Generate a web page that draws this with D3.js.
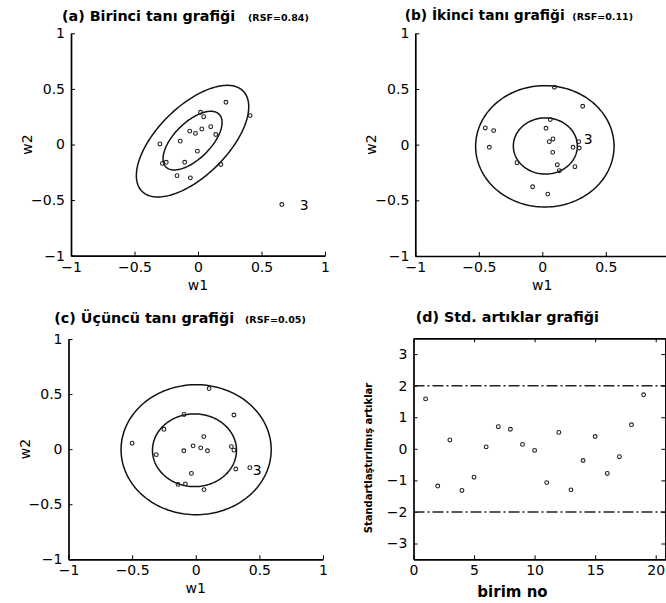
<!DOCTYPE html>
<html>
<head>
<meta charset="utf-8">
<script src="https://cdn.jsdelivr.net/npm/d3@7/dist/d3.min.js"></script>
<style>
  body { margin: 0; background: #fff; }
  svg { display: block; font-family: "DejaVu Sans", sans-serif; }
  .axis path, .axis line { stroke: #000; }
  .axis text { font-size: 14px; fill: #000; }
</style>
</head>
<body>
<div id="chart"></div>
<script>

var wTicks = [-1, -0.5, 0, 0.5, 1];
var stdTicksY = [-3, -2, -1, 0, 1, 2, 3];
var stdTicksX = [0, 5, 10, 15, 20];

// (a) birinci tani grafigi, point no 3 is the third entry
var aW1 = [0.22, 0.02, 0.66, 0.045, 0.41, 0.10, 0.03, -0.065, -0.02, 0.14, -0.14, -0.30, -0.005, -0.25, -0.28, -0.105, 0.18, -0.165, -0.06];
var aW2 = [0.38, 0.29, -0.54, 0.25, 0.26, 0.16, 0.14, 0.12, 0.10, 0.09, 0.03, 0.005, -0.06, -0.16, -0.17, -0.16, -0.18, -0.28, -0.30];
// ellipses: cx, cy, a, b, angle (deg)
var aEllipses = [[-0.043, 0.03, 0.603, 0.29, 50.8], [-0.043, 0.035, 0.317, 0.152, 50.8]];

// (b) ikinci tani grafigi
var bW1 = [0.095, 0.318, 0.287, 0.063, -0.449, -0.383, 0.029, 0.084, 0.055, 0.242, 0.291, -0.417, 0.082, -0.199, 0.118, 0.134, 0.257, -0.076, 0.043];
var bW2 = [0.516, 0.345, 0.027, 0.225, 0.15, 0.126, 0.147, 0.051, 0.027, -0.024, -0.03, -0.024, -0.069, -0.162, -0.18, -0.234, -0.198, -0.378, -0.444];
var bEllipses = [[0.02, -0.015, 0.545, 0.545, 0], [0.024, -0.012, 0.252, 0.252, 0]];

// (c) ucuncu tani grafigi
var cW1 = [0.105, 0.30, 0.425, -0.092, -0.25, -0.50, 0.063, -0.021, 0.039, 0.092, -0.094, 0.28, 0.30, -0.31, 0.315, -0.034, -0.139, -0.081, 0.065];
var cW2 = [0.55, 0.31, -0.168, 0.315, 0.18, 0.054, 0.114, 0.03, 0.012, -0.015, -0.015, 0.023, -0.009, -0.05, -0.18, -0.22, -0.32, -0.315, -0.367];
var cEllipses = [[0.003, -0.005, 0.59, 0.59, 0], [-0.01, -0.01, 0.33, 0.33, 0]];

// (d) standartlastirilmis artiklar
var birimNo = [1, 2, 3, 4, 5, 6, 7, 8, 9, 10, 11, 12, 13, 14, 15, 16, 17, 18, 19];
var stdResid = [1.58, -1.18, 0.28, -1.32, -0.90, 0.06, 0.70, 0.62, 0.14, -0.05, -1.07, 0.52, -1.30, -0.37, 0.39, -0.78, -0.25, 0.76, 1.71];
var limits = [-2, 2];

var width = 666, height = 603;
var fmt = d3.format("~g");

var svg = d3.select("#chart").append("svg")
  .attr("width", width)
  .attr("height", height);

function ellipsePoints(e) {
  var t = e[4] * Math.PI / 180;
  return d3.range(0, 362, 2).map(function (d) {
    var r = d * Math.PI / 180;
    return [e[0] + e[2] * Math.cos(r) * Math.cos(t) - e[3] * Math.sin(r) * Math.sin(t),
            e[1] + e[2] * Math.cos(r) * Math.sin(t) + e[3] * Math.sin(r) * Math.cos(t)];
  });
}

function title(x0, y0, main, size, rsf, xr) {
  svg.append("text")
    .attr("x", x0).attr("y", y0)
    .style("font-size", size + "px").style("font-weight", "bold")
    .text(main);
  if (rsf) {
    svg.append("text")
      .attr("x", xr).attr("y", y0)
      .style("font-size", "9.5px").style("font-weight", "bold")
      .text(rsf);
  }
}

// drop d3's own font attrs so the css font applies
function plain(sel) {
  sel.attr("font-family", null).attr("font-size", null);
}

function scatterPanel(o) {
  var x = d3.scaleLinear().domain([-1, 1]).range(o.xr);
  var y = d3.scaleLinear().domain([-1, 1]).range(o.yr);
  var g = svg.append("g");

  g.append("g")
    .attr("class", "axis")
    .attr("transform", "translate(0," + o.yr[0] + ")")
    .call(d3.axisBottom(x).tickValues(wTicks).tickFormat(fmt)
      .tickSize(-4).tickSizeOuter(0).tickPadding(6))
    .call(plain)
    .select(".domain").attr("stroke-width", 1.7);

  g.append("g")
    .attr("class", "axis")
    .attr("transform", "translate(" + o.xr[0] + ",0)")
    .call(d3.axisLeft(y).tickValues(wTicks).tickFormat(fmt)
      .tickSize(-4).tickSizeOuter(0).tickPadding(6))
    .call(plain)
    .select(".domain").attr("stroke-width", 1.7);

  var line = d3.line()
    .x(function (d) { return x(d[0]); })
    .y(function (d) { return y(d[1]); })
    .curve(d3.curveLinearClosed);

  g.selectAll("path.ell")
    .data(o.ellipses)
    .enter().append("path")
    .attr("class", "ell")
    .attr("d", function (d) { return line(ellipsePoints(d)); })
    .attr("fill", "none")
    .attr("stroke", "#111")
    .attr("stroke-width", 1.5);

  g.selectAll("circle")
    .data(o.w1)
    .enter().append("circle")
    .attr("cx", function (d) { return x(d); })
    .attr("cy", function (d, i) { return y(o.w2[i]); })
    .attr("r", 1.9)
    .attr("fill", "none")
    .attr("stroke", "#222")
    .attr("stroke-width", 1.1);

  // label for unit 3
  g.append("text")
    .attr("x", x(o.w1[2]) + o.lab[0])
    .attr("y", y(o.w2[2]) + o.lab[1])
    .style("font-size", "14px")
    .text("3");

  g.append("text")
    .attr("x", x(0)).attr("y", o.yr[0] + 34)
    .attr("text-anchor", "middle")
    .style("font-size", "14px")
    .text("w1");

  g.append("text")
    .attr("transform", "translate(" + (o.xr[0] - 39) + "," + y(0) + ") rotate(-90)")
    .attr("text-anchor", "middle")
    .style("font-size", "14px")
    .text("w2");
}

title(62, 20.7, "(a) Birinci tanı grafiği", 14.3, "(RSF=0.84)", 248);
scatterPanel({ xr: [71, 325], yr: [255.7, 33.3], w1: aW1, w2: aW2, ellipses: aEllipses, lab: [18, 5] });

title(404.7, 19.5, "(b) İkinci tanı grafiği", 13.8, "(RSF=0.11)", 572.3);
scatterPanel({ xr: [415.3, 669.3], yr: [256, 33.3], w1: bW1, w2: bW2, ellipses: bEllipses, lab: [5, 2] });

title(54.3, 323, "(c) Üçüncü tanı grafiği", 14.3, "(RSF=0.05)", 245);
scatterPanel({ xr: [68.5, 323], yr: [559.3, 339], w1: cW1, w2: cW2, ellipses: cEllipses, lab: [3, 7.5] });

// (d) residual panel
title(415.7, 322, "(d) Std. artıklar grafiği", 14.3);

var xd = d3.scaleLinear().domain([0, 20.8]).range([413.5, 665.4]);
var yd = d3.scaleLinear().domain([-3.5, 3.5]).range([559.3, 338.3]);
var gd = svg.append("g");

gd.append("g").attr("class", "axis")
  .attr("transform", "translate(0," + yd.range()[0] + ")")
  .call(d3.axisBottom(xd).tickValues(stdTicksX).tickFormat(fmt).tickSize(-4).tickSizeOuter(0).tickPadding(6))
  .call(plain);
gd.append("g").attr("class", "axis")
  .attr("transform", "translate(0," + yd.range()[1] + ")")
  .call(d3.axisTop(xd).tickValues(stdTicksX).tickFormat("").tickSize(-4).tickSizeOuter(0));
gd.append("g").attr("class", "axis")
  .attr("transform", "translate(" + xd.range()[0] + ",0)")
  .call(d3.axisLeft(yd).tickValues(stdTicksY).tickFormat(fmt).tickSize(-4).tickSizeOuter(0).tickPadding(6))
  .call(plain);
gd.append("g").attr("class", "axis")
  .attr("transform", "translate(" + xd.range()[1] + ",0)")
  .call(d3.axisRight(yd).tickValues(stdTicksY).tickFormat("").tickSize(-4).tickSizeOuter(0));
gd.selectAll(".domain").attr("stroke-width", 1.7);

gd.selectAll("line.lim")
  .data(limits)
  .enter().append("line")
  .attr("class", "lim")
  .attr("x1", xd.range()[0]).attr("x2", xd.range()[1])
  .attr("y1", function (d) { return yd(d); })
  .attr("y2", function (d) { return yd(d); })
  .attr("stroke", "#222")
  .attr("stroke-width", 1.5)
  .attr("stroke-dasharray", "11,3,2,3");

gd.selectAll("circle")
  .data(stdResid)
  .enter().append("circle")
  .attr("cx", function (d, i) { return xd(birimNo[i]); })
  .attr("cy", function (d) { return yd(d); })
  .attr("r", 1.9)
  .attr("fill", "none")
  .attr("stroke", "#222")
  .attr("stroke-width", 1.1);

gd.append("text")
  .attr("x", 512.5).attr("y", 597)
  .attr("text-anchor", "middle")
  .style("font-size", "15px").style("font-weight", "bold")
  .text("birim no");

gd.append("text")
  .attr("transform", "translate(372,458) rotate(-90)")
  .attr("text-anchor", "middle")
  .style("font-size", "10px").style("font-weight", "bold")
  .text("Standartlaştırılmış artıklar");

</script>
</body>
</html>
